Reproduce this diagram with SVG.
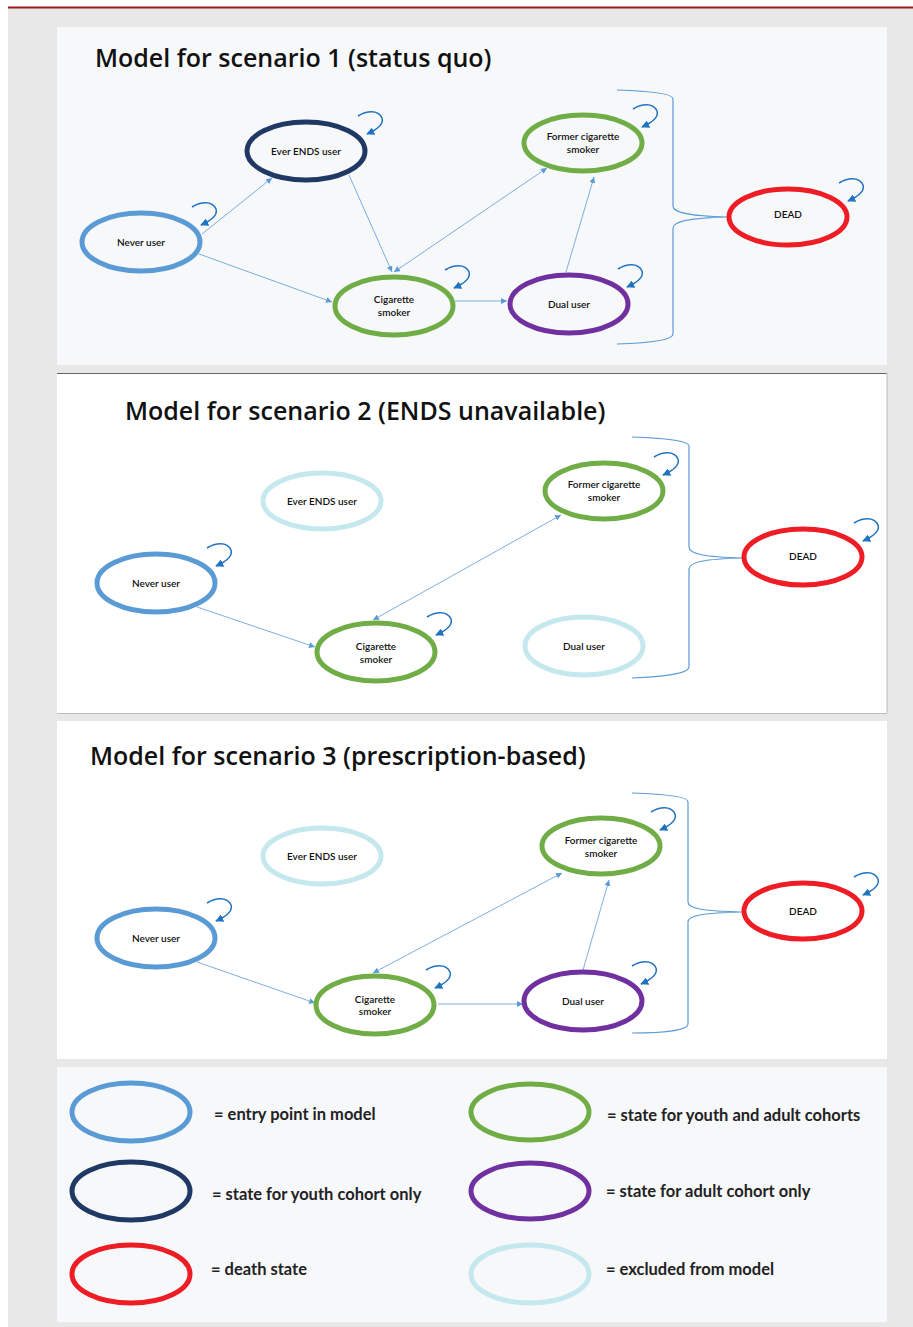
<svg xmlns="http://www.w3.org/2000/svg" width="913" height="1327" viewBox="0 0 913 1327">
<defs>
<style>
.bg{fill:#e7e8e7}
.panel{fill:#f7f8fa}
.white{fill:#ffffff}
.title{font-family:"Open Sans",Lato,sans-serif;font-weight:600;font-size:25px;fill:#111}
.lbl{font-family:Lato,"Open Sans",sans-serif;font-weight:600;font-size:10px;fill:#111;text-anchor:middle}
.leg{font-family:Lato,"Open Sans",sans-serif;font-weight:700;font-size:16.5px;fill:#222}
.node{fill:none;stroke-width:5}
.entry{stroke:#5b9bd5}
.youth{stroke:#1f3864}
.both{stroke:#70ad47}
.adult{stroke:#7030a0}
.dead{stroke:#ee1c25}
.excl{stroke:#c5e8ee}
.conn{fill:none;stroke:#5b9bd5;stroke-width:0.8}
.loop{fill:none;stroke:#1f73c0;stroke-width:1.5}
.brace{fill:none;stroke:#5b9bd5;stroke-width:1.2}
</style>
<marker id="ah" viewBox="0 0 10 10" refX="10" refY="5" markerWidth="6" markerHeight="6" markerUnits="userSpaceOnUse" orient="auto-start-reverse">
<path d="M0,0 L10,5 L0,10 z" fill="#5b9bd5"/>
</marker>
<marker id="lh" viewBox="0 0 10 10" refX="9" refY="5" markerWidth="8" markerHeight="8" markerUnits="userSpaceOnUse" orient="auto">
<path d="M0,0 L10,5 L0,10 z" fill="#1f73c0"/>
</marker>
<path id="lp" class="loop" d="M0,0 C8,-5 20,-7 24,2 C26,8 18,14 9,18" marker-end="url(#lh)"/>
</defs>

<rect x="0" y="0" width="913" height="1327" fill="#ffffff"/>
<rect class="bg" x="8" y="8" width="905" height="1319"/>
<line x1="8" y1="7.5" x2="913" y2="7.5" stroke="#9b1b1b" stroke-width="2"/>

<!-- Panels -->
<g id="panel1">
<rect class="panel" x="57" y="27" width="830" height="338"/>
<text class="title" x="95" y="67">Model for scenario 1 (status quo)</text>
</g>
<g id="panel2">
<rect class="white" x="57" y="373" width="830" height="340"/>
<line x1="57" y1="373.5" x2="887" y2="373.5" stroke="#666" stroke-width="1"/>
<line x1="887" y1="373" x2="887" y2="713" stroke="#bbb" stroke-width="1"/>
<line x1="57" y1="713.5" x2="887" y2="713.5" stroke="#bbb" stroke-width="1"/>
<text class="title" x="125" y="420">Model for scenario 2 (ENDS unavailable)</text>
</g>
<g id="panel3">
<rect class="white" x="57" y="721" width="830" height="338"/>
<text class="title" x="90" y="765">Model for scenario 3 (prescription-based)</text>
</g>
<g id="legend-panel">
<rect class="panel" x="57" y="1067" width="830" height="255"/>
</g>

<!-- Connectors -->
<g id="connectors">
<!-- scenario 1 -->
<path class="conn" d="M202,234 L272,178" marker-end="url(#ah)"/>
<path class="conn" d="M199,254 L332,302" marker-end="url(#ah)"/>
<path class="conn" d="M349,175 L392,272" marker-end="url(#ah)"/>
<path class="conn" d="M394,272 L547,168" marker-start="url(#ah)" marker-end="url(#ah)"/>
<path class="conn" d="M455,301 L507,301" marker-end="url(#ah)"/>
<path class="conn" d="M566,272 L594,177" marker-end="url(#ah)"/>
<path class="brace" d="M617,90 C650,91 673,94 673,99 L673,206 C673,213 690,216 727,217 C690,218 673,221 673,228 L673,334 C673,340 650,343 617,344"/>
<!-- scenario 2 -->
<path class="conn" d="M197,607 L315,647" marker-end="url(#ah)"/>
<path class="conn" d="M373,620 L561,515" marker-start="url(#ah)" marker-end="url(#ah)"/>
<path class="brace" d="M632,437 C665,438 689,441 689,446 L689,547 C689,554 705,557 742,558 C705,559 689,562 689,569 L689,667 C689,673 665,677 632,678"/>
<!-- scenario 3 -->
<path class="conn" d="M197,962 L315,1003" marker-end="url(#ah)"/>
<path class="conn" d="M373,973 L562,873" marker-start="url(#ah)" marker-end="url(#ah)"/>
<path class="conn" d="M438,1004 L523,1004" marker-end="url(#ah)"/>
<path class="conn" d="M583,970 L609,880" marker-end="url(#ah)"/>
<path class="brace" d="M632,793 C665,794 688,797 688,802 L688,902 C688,909 705,911 742,912 C705,913 688,915 688,922 L688,1024 C688,1030 665,1033 632,1033"/>
</g>

<!-- Scenario 1 nodes -->
<g id="s1-never">
<ellipse class="node entry" cx="141" cy="242" rx="59" ry="29"/>
<use href="#lp" x="192" y="207"/>
<text class="lbl" x="141" y="246">Never user</text>
</g>
<g id="s1-ever">
<ellipse class="node youth" cx="306" cy="151" rx="59" ry="29"/>
<use href="#lp" x="358" y="116"/>
<text class="lbl" x="306" y="155">Ever ENDS user</text>
</g>
<g id="s1-former">
<ellipse class="node both" cx="583" cy="143" rx="59" ry="28"/>
<use href="#lp" x="633" y="109"/>
<text class="lbl" x="583" y="140">Former cigarette</text>
<text class="lbl" x="583" y="153">smoker</text>
</g>
<g id="s1-cig">
<ellipse class="node both" cx="394" cy="306" rx="59" ry="29"/>
<use href="#lp" x="445" y="270"/>
<text class="lbl" x="394" y="303">Cigarette</text>
<text class="lbl" x="394" y="316">smoker</text>
</g>
<g id="s1-dual">
<ellipse class="node adult" cx="569" cy="304" rx="59" ry="29"/>
<use href="#lp" x="618" y="269"/>
<text class="lbl" x="569" y="308">Dual user</text>
</g>
<g id="s1-dead">
<ellipse class="node dead" cx="788" cy="217" rx="59" ry="28"/>
<use href="#lp" x="839" y="183"/>
<text class="lbl" x="788" y="218">DEAD</text>
</g>

<!-- Scenario 2 nodes -->
<g id="s2-ever">
<ellipse class="node excl" cx="322" cy="501" rx="59" ry="28"/>
<text class="lbl" x="322" y="505">Ever ENDS user</text>
</g>
<g id="s2-former">
<ellipse class="node both" cx="604" cy="491" rx="59" ry="28"/>
<use href="#lp" x="654" y="457"/>
<text class="lbl" x="604" y="488">Former cigarette</text>
<text class="lbl" x="604" y="501">smoker</text>
</g>
<g id="s2-never">
<ellipse class="node entry" cx="156" cy="583" rx="59" ry="29"/>
<use href="#lp" x="207" y="548"/>
<text class="lbl" x="156" y="587">Never user</text>
</g>
<g id="s2-dead">
<ellipse class="node dead" cx="803" cy="557" rx="59" ry="28"/>
<use href="#lp" x="854" y="523"/>
<text class="lbl" x="803" y="560">DEAD</text>
</g>
<g id="s2-cig">
<ellipse class="node both" cx="376" cy="652" rx="59" ry="29"/>
<use href="#lp" x="427" y="617"/>
<text class="lbl" x="376" y="650">Cigarette</text>
<text class="lbl" x="376" y="663">smoker</text>
</g>
<g id="s2-dual">
<ellipse class="node excl" cx="584" cy="646" rx="59" ry="29"/>
<text class="lbl" x="584" y="650">Dual user</text>
</g>

<!-- Scenario 3 nodes -->
<g id="s3-ever">
<ellipse class="node excl" cx="322" cy="856" rx="59" ry="28"/>
<text class="lbl" x="322" y="860">Ever ENDS user</text>
</g>
<g id="s3-former">
<ellipse class="node both" cx="601" cy="846" rx="59" ry="28"/>
<use href="#lp" x="651" y="812"/>
<text class="lbl" x="601" y="844">Former cigarette</text>
<text class="lbl" x="601" y="857">smoker</text>
</g>
<g id="s3-never">
<ellipse class="node entry" cx="156" cy="938" rx="59" ry="29"/>
<use href="#lp" x="207" y="903"/>
<text class="lbl" x="156" y="942">Never user</text>
</g>
<g id="s3-dead">
<ellipse class="node dead" cx="803" cy="911" rx="59" ry="28"/>
<use href="#lp" x="854" y="877"/>
<text class="lbl" x="803" y="915">DEAD</text>
</g>
<g id="s3-cig">
<ellipse class="node both" cx="375" cy="1005" rx="59" ry="29"/>
<use href="#lp" x="426" y="970"/>
<text class="lbl" x="375" y="1003">Cigarette</text>
<text class="lbl" x="375" y="1015">smoker</text>
</g>
<g id="s3-dual">
<ellipse class="node adult" cx="583" cy="1001" rx="59" ry="29"/>
<use href="#lp" x="632" y="966"/>
<text class="lbl" x="583" y="1005">Dual user</text>
</g>

<!-- Legend -->
<g id="legend">
<g id="leg-entry"><ellipse class="node entry" cx="131" cy="1112" rx="59" ry="29"/><text class="leg" x="214" y="1120">= entry point in model</text></g>
<g id="leg-youth"><ellipse class="node youth" cx="131" cy="1191" rx="59" ry="29"/><text class="leg" x="212" y="1200">= state for youth cohort only</text></g>
<g id="leg-dead"><ellipse class="node dead" cx="131" cy="1274" rx="59" ry="29"/><text class="leg" x="211" y="1275">= death state</text></g>
<g id="leg-both"><ellipse class="node both" cx="530" cy="1112" rx="59" ry="28"/><text class="leg" x="607" y="1121">= state for youth and adult cohorts</text></g>
<g id="leg-adult"><ellipse class="node adult" cx="530" cy="1191" rx="59" ry="28"/><text class="leg" x="606" y="1197">= state for adult cohort only</text></g>
<g id="leg-excl"><ellipse class="node excl" cx="530" cy="1274" rx="59" ry="29"/><text class="leg" x="606" y="1275">= excluded from model</text></g>
</g>
</svg>
